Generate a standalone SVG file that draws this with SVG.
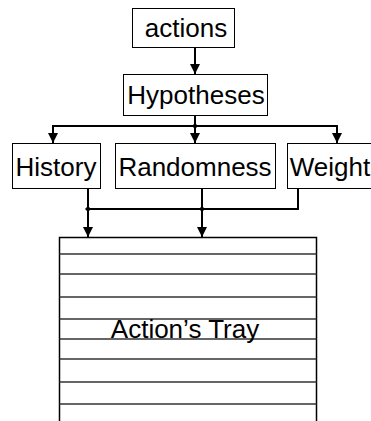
<svg xmlns="http://www.w3.org/2000/svg" width="371" height="421" viewBox="0 0 371 421">
<style>
.box{fill:#fff;stroke:#000;stroke-width:1}
.lbl{font-family:"Liberation Sans",Arial,sans-serif;font-size:26px;fill:#000;text-anchor:middle}
.con{fill:none;stroke:#000;stroke-width:2}
.tl{stroke:#333;stroke-width:1.5}
</style>
<defs>
<marker id="ah" viewBox="0 0 10 10" refX="10" refY="5" markerWidth="5" markerHeight="5" markerUnits="strokeWidth" orient="auto">
<path d="M0,0 L10,5 L0,10 z" fill="#000"/>
</marker>
<marker id="dot" viewBox="0 0 10 10" refX="5" refY="5" markerWidth="3" markerHeight="3" markerUnits="strokeWidth" orient="auto">
<path d="M5,0 L10,5 L5,10 L0,5 z" fill="#000"/>
</marker>
</defs>
<rect width="371" height="421" fill="#fff"/>
<g id="connectors">
<path class="con" d="M195,47 V74" marker-end="url(#ah)"/>
<path class="con" d="M195,115 V126" marker-end="url(#dot)"/>
<path class="con" d="M195,126 H53 V143" marker-end="url(#ah)"/>
<path class="con" d="M195,126 V143" marker-end="url(#ah)"/>
<path class="con" d="M195,126 H337 V143" marker-end="url(#ah)"/>
<path class="con" d="M88,188 V209" marker-end="url(#dot)"/>
<path class="con" d="M88,209 V237" marker-end="url(#ah)"/>
<path class="con" d="M298,188 V209 H202" marker-end="url(#dot)"/>
<path class="con" d="M202,209 H88"/>
<path class="con" d="M202,188 V209"/>
<path class="con" d="M202,209 V237" marker-end="url(#ah)"/>
</g>
<g id="actions">
<rect class="box" x="132.5" y="8.5" width="102" height="39"/>
<text class="lbl" x="186" y="37">actions</text>
</g>
<g id="hypotheses">
<rect class="box" x="123.5" y="74.5" width="144" height="41"/>
<text class="lbl" x="196" y="104">Hypotheses</text>
</g>
<g id="history">
<rect class="box" x="12.5" y="143.5" width="88" height="45"/>
<text class="lbl" x="56" y="176">History</text>
</g>
<g id="randomness">
<rect class="box" x="115.5" y="143.5" width="160" height="45"/>
<text class="lbl" x="195" y="176">Randomness</text>
</g>
<g id="weight">
<rect class="box" x="287.5" y="143.5" width="90" height="45"/>
<text class="lbl" x="330" y="176">Weight</text>
</g>
<g id="tray">
<path d="M59.5,421 V237.5 H316.5 V421" fill="#fff" stroke="#000" stroke-width="1.5"/>
<g class="tl">
<line x1="59.5" y1="254" x2="316.5" y2="254"/>
<line x1="59.5" y1="274" x2="316.5" y2="274"/>
<line x1="59.5" y1="297" x2="316.5" y2="297"/>
<line x1="59.5" y1="319" x2="316.5" y2="319"/>
<line x1="59.5" y1="339" x2="316.5" y2="339"/>
<line x1="59.5" y1="359" x2="316.5" y2="359"/>
<line x1="59.5" y1="382" x2="316.5" y2="382"/>
<line x1="59.5" y1="404" x2="316.5" y2="404"/>
</g>
<text class="lbl" x="185" y="338">Action’s Tray</text>
</g>
</svg>
